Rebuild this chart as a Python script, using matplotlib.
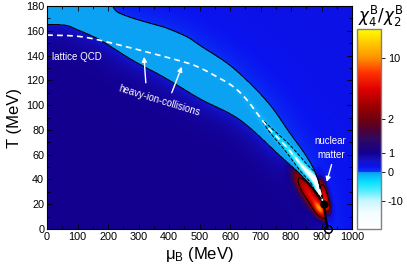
import numpy as np
import matplotlib
matplotlib.use('Agg')
import matplotlib.pyplot as plt
from matplotlib.colors import LinearSegmentedColormap, FuncNorm

plt.rcParams['font.family'] = ['Liberation Sans', 'DejaVu Sans']
plt.rcParams['mathtext.fontset'] = 'custom'
plt.rcParams['mathtext.rm'] = 'Liberation Sans'
plt.rcParams['mathtext.it'] = 'Liberation Sans:italic'
plt.rcParams['axes.unicode_minus'] = False

# ---------------- data ----------------
# lower boundary of the negative (chi4/chi2 < 0) band, ending at the critical point
lower_mu = [0, 60, 98, 174, 282, 387, 502, 633, 764, 839, 895, 907]
lower_T = [165, 164.5, 161, 152.5, 136, 122, 105, 88, 59, 42, 26, 19.9]
# upper boundary of the negative band
upper_mu = [214, 222, 239, 282, 338, 393, 459, 502, 610, 721, 797, 852, 885, 907]
upper_T = [181, 177, 174, 170, 166, 162, 155, 148, 130, 103, 77, 58, 42, 19.9]
# crossover line (lattice QCD / dashed)
cross_mu = [0, 118, 262, 446, 502, 556, 610, 656, 721, 786, 839, 885, 907]
cross_T = [156.6, 155, 147, 135, 130, 123, 115, 104, 83, 66, 50, 37, 19.9]
# critical end point and nuclear matter point (first-order line between them)
cep_mu, cep_T = 907, 19.9
nm_mu, nm_T = 920, 0
# positive peaks of chi4/chi2 near the critical point
lobe_mu = [862, 895, 870, 910, 914]
lobe_T = [28.0, 16.0, 30.0, 27.0, 19.0]
lobe_amp = [5.0, 7.0, 0.7, 5.5, 6.0]
# colour bar
cbar_vals = [-20, -10, 0, 1, 2, 10, 14]
cbar_ticks = [-10, 0, 1, 2, 10]
cbar_ticklabels = ['-10', '0', '1', '2', '10']

# ---------------- build the field ----------------
sx, sy = 305 / 1000, 223 / 180  # pixel per MeV
mu = np.linspace(0, 1000, 701)
T = np.linspace(0, 180, 501)
MU, TT = np.meshgrid(mu, T)
X, Y = MU * sx, TT * sy


def smooth(pm, pt, n=10):
    P = np.column_stack([np.asarray(pm, float) * sx, np.asarray(pt, float) * sy])
    P = np.vstack([2 * P[0] - P[1], P, 2 * P[-1] - P[-2]])
    s = np.linspace(0, 1, n, endpoint=False)[:, None]
    out = []
    for i in range(1, len(P) - 2):
        p0, p1, p2, p3 = P[i - 1], P[i], P[i + 1], P[i + 2]
        out.append(0.5 * (2 * p1 + (-p0 + p2) * s + (2 * p0 - 5 * p1 + 4 * p2 - p3) * s ** 2
                          + (-p0 + 3 * p1 - 3 * p2 + p3) * s ** 3))
    out.append(P[-2][None])
    Q = np.vstack(out)
    return np.maximum.accumulate(Q[:, 0] / sx), Q[:, 1] / sy


def polyline_distance(pmu, pT):
    px, py = np.asarray(pmu) * sx, np.asarray(pT) * sy
    d = np.full(X.shape, np.inf)
    for i in range(len(px) - 1):
        dx, dy = px[i + 1] - px[i], py[i + 1] - py[i]
        L2 = dx * dx + dy * dy
        if L2 == 0:
            continue
        t = np.clip(((X - px[i]) * dx + (Y - py[i]) * dy) / L2, 0, 1)
        d = np.minimum(d, np.hypot(X - px[i] - t * dx, Y - py[i] - t * dy))
    return d


lm, lt = smooth(lower_mu, lower_T)
lm, lt = np.append(lm, nm_mu), np.append(lt, nm_T)  # first-order line
um, ut = smooth(upper_mu, upper_T)
cm_, ct_ = smooth(cross_mu, cross_T)

Lc = np.interp(MU, lm, lt, right=-1e3)
Uc = np.interp(MU, um, ut, left=1e3, right=-1e3)
below = TT < Lc
band = (~below) & (TT < Uc)
above = ~(below | band)

dL = polyline_distance(lm, lt)
dU = polyline_distance(np.append(um, nm_mu), np.append(ut, nm_T))
dC = polyline_distance(cm_, ct_)

F = np.zeros_like(MU)
F[below] = (1 - 0.5 * np.exp(-dL / 11))[below]
A = np.exp((MU - 708) / 55)
F[band] = (-0.5 - A * np.exp(-(dC / 3.0) ** 2))[band]
F[above] = (0.1 + 0.25 * (1 - np.exp(-dU / 25)))[above]


def lobe(cm, cT, ux, uy, sl, ss):
    dx, dy = (MU - cm) * sx, (TT - cT) * sy
    a = dx * ux + dy * uy
    b = -dx * uy + dy * ux
    return np.exp(-0.5 * ((a / sl) ** 2 + (b / ss) ** 2))


# shape (direction, long/short widths in px) and side of each peak
shapes = [(0.56, -0.83, 14, 3.6, 'L'), (0.56, -0.83, 6, 3.0, 'L'), (0.56, -0.83, 24, 9, 'L'),
          (0.233, -0.972, 10, 2.6, 'R'), (0.233, -0.972, 4, 2.2, 'R')]
for m, t, a, (ux, uy, sl, ss, side) in zip(lobe_mu, lobe_T, lobe_amp, shapes):
    region = below if side == 'L' else above
    F[region] += (a * lobe(m, t, ux, uy, sl, ss))[region]

# ---------------- colour map / norm ----------------
cb_pos = [0, 0.14, 0.285, 0.38, 0.55, 0.855, 1.0]


def fwd(v):
    return np.interp(v, cbar_vals, cb_pos)


def inv(t):
    return np.interp(t, cb_pos, cbar_vals)


norm = FuncNorm((fwd, inv), vmin=cbar_vals[0], vmax=cbar_vals[-1])
stops = [(0.0, '#ffffff'), (0.08, '#f4fdff'), (0.14, '#c8f6ff'), (0.2, '#40ecff'),
         (0.245, '#00d8ff'), (0.27, '#10b0f8'), (0.2849, '#0896f0'), (0.2851, '#0a3cf5'),
         (0.31, '#0a12f0'), (0.34, '#1212c8'), (0.38, '#140090'), (0.45, '#300860'),
         (0.5, '#500030'), (0.55, '#700010'), (0.62, '#a00000'), (0.7, '#e00000'),
         (0.78, '#ff3000'), (0.855, '#ff9000'), (0.93, '#ffc800'), (1.0, '#ffff00')]
cmap = LinearSegmentedColormap.from_list('chi', stops, N=2048)

# ---------------- figure ----------------
fig = plt.figure(figsize=(4.07, 2.71), dpi=100)
ax = fig.add_axes([47 / 407, 1 - 229 / 271, 305 / 407, 223 / 271])
im = ax.imshow(F, origin='lower', extent=[0, 1000, 0, 180], aspect='auto',
               cmap=cmap, norm=norm, interpolation='bilinear')
ax.contour(MU, TT, F, levels=[-1.5, 0, 3], colors='k', linewidths=0.7)
ax.plot(cm_, ct_, color='white', lw=1.2, ls=(0, (3.5, 2.5)))
ax.plot([cep_mu, nm_mu], [cep_T, nm_T], color='k', lw=1.5)
ax.plot([cep_mu], [cep_T], 'o', color='k', ms=5)
ax.plot([nm_mu], [nm_T], 'o', mfc='none', mec='k', mew=1.1, ms=5.5, clip_on=False, zorder=5)

ax.set_xlim(0, 1000)
ax.set_ylim(0, 180)
ax.set_xticks(np.arange(0, 1001, 100))
ax.set_yticks(np.arange(0, 181, 20))
ax.set_xticks(np.arange(0, 1001, 50), minor=True)
ax.set_yticks(np.arange(0, 181, 10), minor=True)
ax.tick_params(which='both', direction='in', top=True, right=True, labelsize=7.8, width=0.6, pad=2)
ax.tick_params(which='major', length=3.5)
ax.tick_params(which='minor', length=2)
for s in ax.spines.values():
    s.set_linewidth(0.8)
ax.set_xlabel('μ$_\\mathrm{B}$ (MeV)', fontsize=12, labelpad=2)
ax.set_ylabel('T (MeV)', fontsize=12, labelpad=3)

tc = 'white'
ax.text(16, 139, 'lattice QCD', color=tc, fontsize=7, va='center', ha='left')
ax.text(370, 104, 'heavy-ion-collisions', color=tc, fontsize=7, rotation=-17,
        ha='center', va='center', rotation_mode='anchor')
ax.text(928, 71, 'nuclear', color=tc, fontsize=7, ha='center', va='center')
ax.text(931, 59.5, 'matter', color=tc, fontsize=7, ha='center', va='center')
ap = dict(arrowstyle='-|>', color='white', lw=1, mutation_scale=7, shrinkA=0, shrinkB=0)
ax.annotate('', xy=(318, 139), xytext=(324, 118), arrowprops=ap)
ax.annotate('', xy=(442, 131), xytext=(409, 110), arrowprops=ap)
ax.annotate('', xy=(917, 38), xytext=(933, 52), arrowprops=ap)

cax = fig.add_axes([357 / 407, 1 - 229 / 271, 24 / 407, 200 / 271])
cb = fig.colorbar(im, cax=cax)
cb.set_ticks(cbar_ticks)
cb.set_ticklabels(cbar_ticklabels)
cb.minorticks_off()
cb.outline.set_edgecolor('#808080')
cb.outline.set_linewidth(1)
cax.tick_params(labelsize=7.8, length=3, width=0.6, pad=2)
fig.text(381 / 407, 1 - 16 / 271, r'$\chi_4^\mathrm{B}/\chi_2^\mathrm{B}$',
         fontsize=12, ha='center', va='center', math_fontfamily='dejavusans')

fig.savefig('out.png', dpi=100)
